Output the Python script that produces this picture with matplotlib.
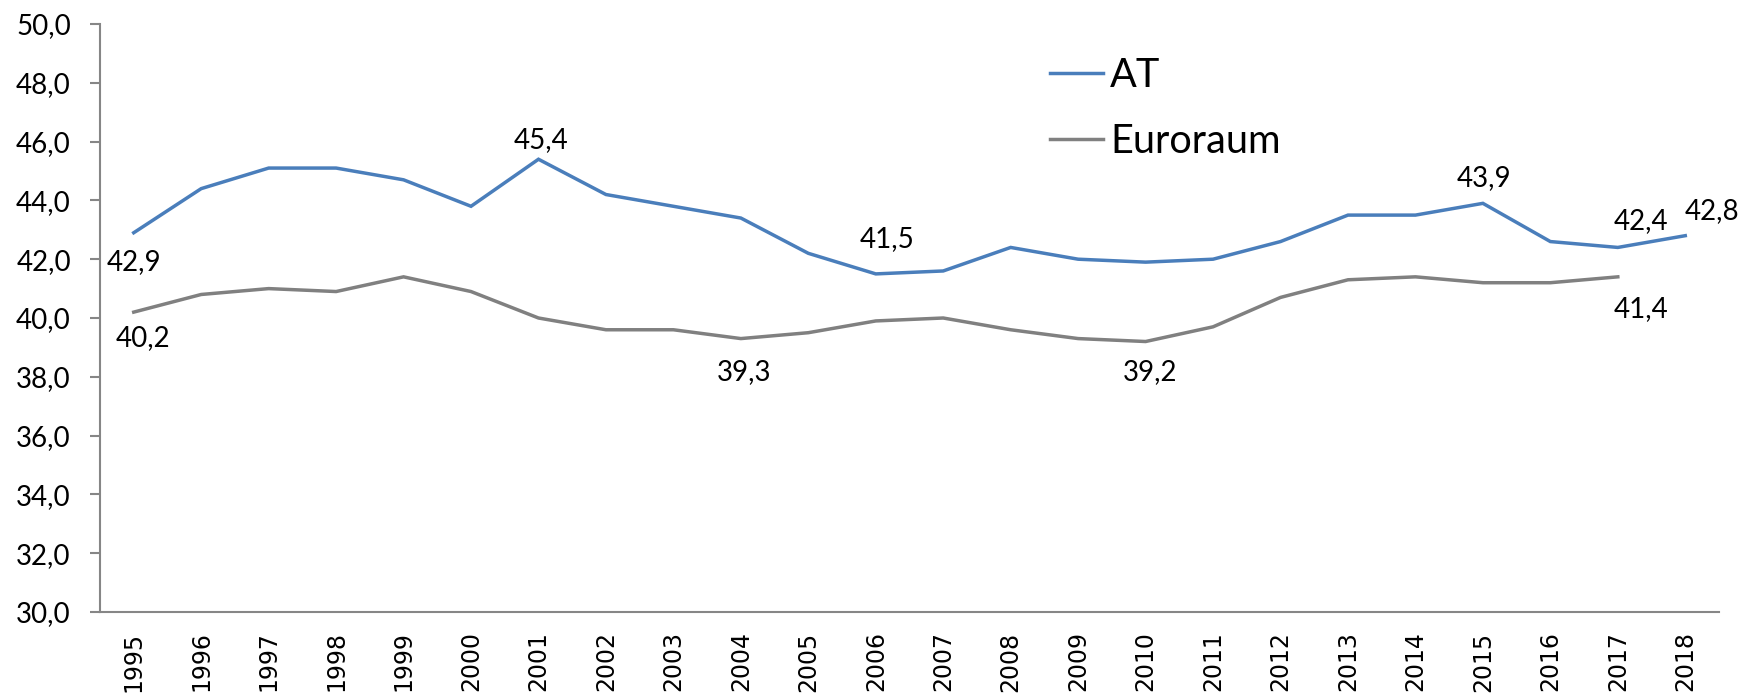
import numpy as np
from matplotlib import pyplot as plt

years = list(range(1995, 2019))
at = [42.9, 44.4, 45.1, 45.1, 44.7, 43.8, 45.4, 44.2, 43.8, 43.4, 42.2, 41.5,
      41.6, 42.4, 42.0, 41.9, 42.0, 42.6, 43.5, 43.5, 43.9, 42.6, 42.4, 42.8]
euro = [40.2, 40.8, 41.0, 40.9, 41.4, 40.9, 40.0, 39.6, 39.6, 39.3, 39.5, 39.9,
        40.0, 39.6, 39.3, 39.2, 39.7, 40.7, 41.3, 41.4, 41.2, 41.2, 41.4]

# which points get a value label, with offsets in points
at_labels = {1995: (0, -21), 2001: (2, 14), 2006: (8, 25), 2015: (1, 18),
             2017: (17, 19), 2018: (19, 18)}
euro_labels = {1995: (7, -19), 2004: (2, -24), 2010: (3, -22), 2017: (17, -23)}

blue = '#4A7EBB'
grey = '#808080'
lab_font = 'Lato'

fig = plt.figure(figsize=(17.41, 6.98), dpi=100)
ax = fig.add_axes([100 / 1741, 1 - 612 / 698, (1719 - 100) / 1741, (612 - 24) / 698])

x_at = np.arange(len(at))
x_eu = np.arange(len(euro))
ax.plot(x_at, at, color=blue, lw=2.5, label='AT', solid_joinstyle='miter')
ax.plot(x_eu, euro, color=grey, lw=2.5, label='Euroraum', solid_joinstyle='miter')

def fmt(v):
    return ('%.1f' % v).replace('.', ',')

for yr, off in at_labels.items():
    i = years.index(yr)
    ax.annotate(fmt(at[i]), (i, at[i]), xytext=off, textcoords='offset points',
                ha='center', va='center', fontsize=20, family=lab_font)
for yr, off in euro_labels.items():
    i = years.index(yr)
    ax.annotate(fmt(euro[i]), (i, euro[i]), xytext=off, textcoords='offset points',
                ha='center', va='center', fontsize=20, family=lab_font)

ax.set_xlim(-0.5, len(years) - 0.5)
ax.set_ylim(30, 50)
ax.set_yticks(np.arange(30, 50.1, 2))
ax.set_yticklabels([fmt(v) for v in np.arange(30, 50.1, 2)], family=lab_font, fontsize=20)
ax.set_xticks(x_at)
ax.set_xticklabels([str(y) for y in years], rotation=90, fontsize=17, family='DejaVu Sans')

for s in ['top', 'right']:
    ax.spines[s].set_visible(False)
for s in ['left', 'bottom']:
    ax.spines[s].set_color('#868686')
    ax.spines[s].set_linewidth(1.5)
ax.tick_params(axis='y', direction='out', length=7, width=1.5, color='#868686', pad=14)
ax.tick_params(axis='x', length=0, pad=14)

leg = ax.legend(loc='upper left', bbox_to_anchor=(0.565, 1.005), frameon=False,
                prop={'family': lab_font, 'size': 28.5}, handlelength=1.34,
                handletextpad=0.17, labelspacing=0.74)

fig.savefig('out.png', dpi=100)
